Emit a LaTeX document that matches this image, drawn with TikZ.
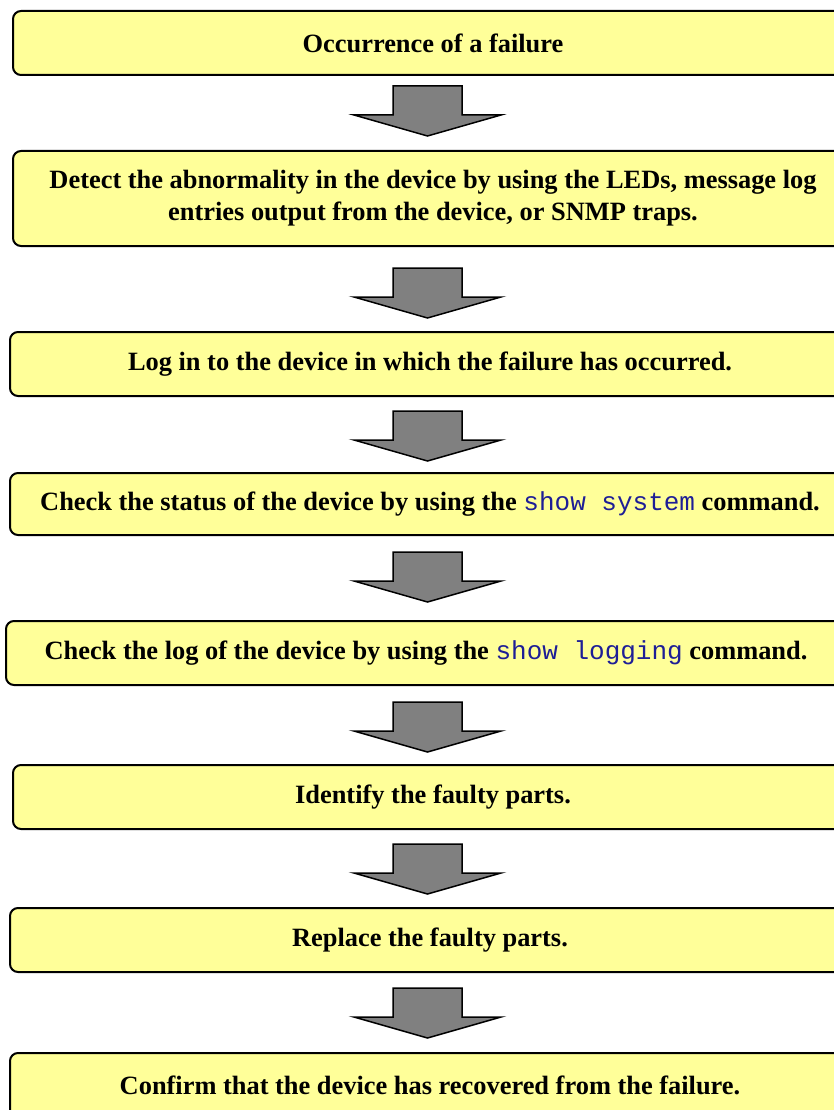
\documentclass[tikz,border=0pt]{standalone}
\usepackage{fontspec}
\setmainfont{Liberation Serif}
\setmonofont{Liberation Mono}
\definecolor{boxyellow}{HTML}{FFFF99}
\definecolor{arrowgray}{HTML}{808080}
\definecolor{cmdblue}{RGB}{30,30,150}
\newcommand{\cmdtext}[1]{{\fontsize{26pt}{32pt}\selectfont\ttfamily\mdseries\color{cmdblue}#1}}
\tikzset{
  stepbox/.style={draw=black, line width=2pt, fill=boxyellow, rounded corners=8pt,
    minimum width=840pt, align=center, inner sep=0pt,
    font=\fontsize{26.4pt}{32pt}\selectfont\bfseries},
  arrowshape/.style={draw=black, line width=1.5pt, fill=arrowgray, line join=miter},
  downarrow/.pic={\draw[arrowshape] (-34.5pt,0) -- (34.5pt,0) -- (34.5pt,-29pt) -- (73.5pt,-29pt)
     -- (0,-50pt) -- (-73.5pt,-29pt) -- (-34.5pt,-29pt) -- cycle;}
}
\begin{document}
\begin{tikzpicture}[x=1pt,y=1pt]
\useasboundingbox (0,0) rectangle (834,-1110);
\path[clip] (0,0) rectangle (834,-1110);
\node[stepbox, minimum height=64pt] (b1) at (433,-43) {Occurrence of a failure};
\node[stepbox, minimum height=95pt] (b2) at (433,-198.5) {Detect the abnormality in the device by using the LEDs, message log\\entries output from the device, or SNMP traps.};
\node[stepbox, minimum height=64pt] (b3) at (430,-364) {Log in to the device in which the failure has occurred.};
\node[stepbox, minimum height=62pt] (b4) at (430,-504) {Check the status of the device by using the \cmdtext{show system} command.};
\node[stepbox, minimum height=64pt] (b5) at (426,-653) {Check the log of the device by using the \cmdtext{show logging} command.};
\node[stepbox, minimum height=64pt] (b6) at (433,-797) {Identify the faulty parts.};
\node[stepbox, minimum height=64pt] (b7) at (430,-940) {Replace the faulty parts.};
\node[stepbox, minimum height=64pt] (b8) at (430,-1085) {Confirm that the device has recovered from the failure.};
\coordinate (a1) at (427.5,-86);
\coordinate (a2) at (427.5,-268);
\coordinate (a3) at (427.5,-411);
\coordinate (a4) at (427.5,-552);
\coordinate (a5) at (427.5,-702);
\coordinate (a6) at (427.5,-844);
\coordinate (a7) at (427.5,-988);
\foreach \a in {a1,a2,a3,a4,a5,a6,a7} { \pic at (\a) {downarrow}; }
\end{tikzpicture}
\end{document}
